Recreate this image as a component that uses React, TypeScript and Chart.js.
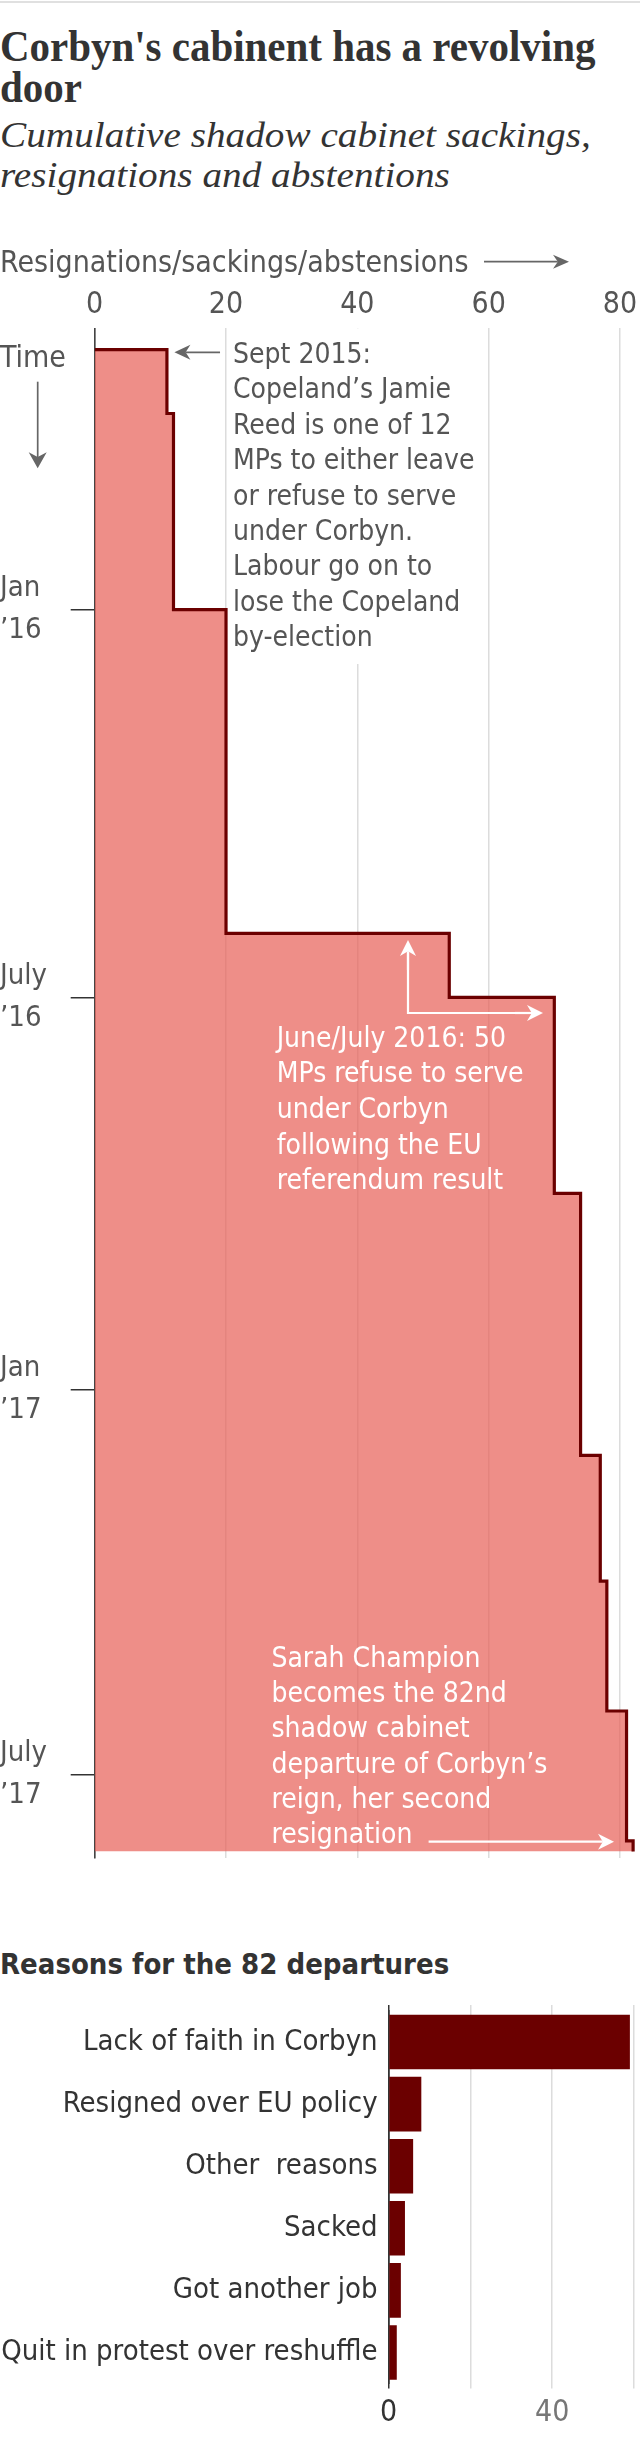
import React, { useEffect, useRef } from "react";
import { Chart, registerables } from "chart.js";

Chart.register(...registerables);

const FONT = "'DejaVu Sans Condensed', 'DejaVu Sans', sans-serif";

// ---- Timeline: cumulative shadow cabinet departures ----
const stepDates = [
  "2015-09-01", "2015-09-01", "2015-10-01", "2016-01-01", "2016-06-01", "2016-07-01",
  "2016-10-01", "2017-02-01", "2017-04-01", "2017-06-01", "2017-08-01", "2017-08-06",
];
const cumulativeDepartures = [0, 11, 12, 20, 54, 70, 74, 77, 78, 81, 82, 82];
const timeAxisStart = "2015-08-22";
const timeAxisEnd = "2017-08-09";
const timeTickDates = ["2016-01-01", "2016-07-01", "2017-01-01", "2017-07-01"];
const timeTickLabels = [["Jan", "’16"], ["July", "’16"], ["Jan", "’17"], ["July", "’17"]];
const countTicks = [0, 20, 40, 60, 80];

const note1 = [
  "Sept 2015:", "Copeland’s Jamie", "Reed is one of 12", "MPs to either leave",
  "or refuse to serve", "under Corbyn.", "Labour go on to", "lose the Copeland", "by-election",
];
const note2 = [
  "June/July 2016: 50", "MPs refuse to serve", "under Corbyn", "following the EU", "referendum result",
];
const note3 = [
  "Sarah Champion", "becomes the 82nd", "shadow cabinet", "departure of Corbyn’s",
  "reign, her second", "resignation",
];

// ---- Reasons bar chart ----
const reasonLabels = [
  "Lack of faith in Corbyn", "Resigned over EU policy", "Other  reasons",
  "Sacked", "Got another job", "Quit in protest over reshuffle",
];
const reasonCounts = [59, 8, 6, 4, 3, 2];
const reasonGridTicks = [0, 20, 40, 60];
const reasonTickLabels = ["0", "", "40", ""];

const ms = (s: string) => Date.parse(s + "T00:00:00Z");

function arrow(ctx: CanvasRenderingContext2D, x1: number, y1: number, x2: number, y2: number,
  color: string, width: number, headLen: number, headHalf: number) {
  const ang = Math.atan2(y2 - y1, x2 - x1);
  const cos = Math.cos(ang), sin = Math.sin(ang);
  ctx.save();
  ctx.strokeStyle = color;
  ctx.fillStyle = color;
  ctx.lineWidth = width;
  ctx.beginPath();
  ctx.moveTo(x1, y1);
  ctx.lineTo(x2 - cos * headLen * 0.7, y2 - sin * headLen * 0.7);
  ctx.stroke();
  const bx = x2 - cos * headLen, by = y2 - sin * headLen;
  const nx = x2 - cos * headLen * 0.7, ny = y2 - sin * headLen * 0.7;
  ctx.beginPath();
  ctx.moveTo(x2, y2);
  ctx.lineTo(bx - sin * headHalf, by + cos * headHalf);
  ctx.lineTo(nx, ny);
  ctx.lineTo(bx + sin * headHalf, by - cos * headHalf);
  ctx.closePath();
  ctx.fill();
  ctx.restore();
}

const timelineNotes = {
  id: "timelineNotes",
  beforeDatasetsDraw(chart: any) {
    const { ctx, chartArea, scales } = chart;
    const x = scales.x;
    const left = x.getPixelForValue(20) + 2.5;
    const right = x.getPixelForValue(60) - 3;
    ctx.save();
    ctx.fillStyle = "#ffffff";
    ctx.fillRect(left, chartArea.top, right - left, 434 - chartArea.top);
    ctx.restore();
  },
  afterDraw(chart: any) {
    const { ctx, scales } = chart;
    const x = scales.x;
    ctx.save();
    ctx.textAlign = "left";
    ctx.textBaseline = "alphabetic";
    ctx.fillStyle = "#555";
    ctx.font = `30px ${FONT}`;
    ctx.fillText("Resignations/sackings/abstensions", 0, 41.7);
    arrow(ctx, 484, 31.7, 569, 31.7, "#666", 1.7, 16, 7);
    ctx.fillStyle = "#555";
    ctx.fillText("Time", 0, 137);
    arrow(ctx, 37.7, 151.7, 37.7, 238.3, "#666", 1.7, 16, 9);

    ctx.font = `28px ${FONT}`;
    ctx.fillStyle = "#555";
    const n1x = x.getPixelForValue(20) + 7;
    note1.forEach((t, i) => ctx.fillText(t, n1x, 133 + i * 35.4));
    arrow(ctx, x.getPixelForValue(20) - 6, 122.3, x.getPixelForValue(11) + 7.5, 122.3, "#666", 1.7, 16, 7.5);

    ctx.fillStyle = "#ffffff";
    note2.forEach((t, i) => ctx.fillText(t, 276.7, 816.7 + i * 35.6));
    ctx.strokeStyle = "#ffffff";
    ctx.lineWidth = 2.2;
    ctx.beginPath();
    ctx.moveTo(408, 722);
    ctx.lineTo(408, 783);
    ctx.lineTo(532, 783);
    ctx.stroke();
    arrow(ctx, 408, 740, 408, 710, "#ffffff", 2.2, 16, 8);
    arrow(ctx, 515, 783, 543, 783, "#ffffff", 2.2, 16, 8);

    ctx.fillStyle = "#ffffff";
    note3.forEach((t, i) => ctx.fillText(t, 271.4, 1436.7 + i * 35.3));
    arrow(ctx, 428.6, 1611.7, 614, 1611.7, "#ffffff", 2.2, 16, 8);
    ctx.restore();
  },
};

export default function App() {
  const topRef = useRef<HTMLCanvasElement | null>(null);
  const barRef = useRef<HTMLCanvasElement | null>(null);

  useEffect(() => {
    document.body.style.margin = "0";
    const points = stepDates.map((d, i) => ({ x: cumulativeDepartures[i], y: ms(d) }));
    const top = new Chart(topRef.current as HTMLCanvasElement, {
      type: "line",
      data: {
        datasets: [
          {
            data: points as any,
            stepped: "after",
            fill: "origin",
            backgroundColor: "rgba(231,94,86,0.7)",
            borderColor: "#6b0000",
            borderWidth: 3.2,
            pointRadius: 0,
            borderJoinStyle: "miter",
            borderCapStyle: "butt",
          } as any,
        ],
      },
      options: {
        indexAxis: "y",
        responsive: false,
        animation: false,
        devicePixelRatio: 1,
        layout: { padding: { top: 52.3, bottom: 12, left: 0, right: 0 } },
        plugins: { legend: { display: false }, tooltip: { enabled: false } },
        scales: {
          x: {
            type: "linear",
            position: "top",
            min: 0,
            max: 83.05,
            afterBuildTicks: (s: any) => { s.ticks = countTicks.map((v) => ({ value: v })); },
            afterFit: (s: any) => { s.height = 46; s.paddingLeft = 0; s.paddingRight = 0; },
            ticks: { font: { family: FONT, size: 30 }, color: "#555", padding: 5, autoSkip: false, maxRotation: 0 },
            grid: { color: "#dcdcdc", lineWidth: 1.5, drawTicks: false },
            border: { display: false },
          },
          y: {
            type: "linear",
            reverse: true,
            min: ms(timeAxisStart),
            max: ms(timeAxisEnd),
            afterBuildTicks: (s: any) => { s.ticks = timeTickDates.map((d) => ({ value: ms(d) })); },
            afterFit: (s: any) => { s.width = 94.7; s.paddingTop = 0; s.paddingBottom = 0; },
            ticks: {
              callback: (_v: any, i: number) => timeTickLabels[i],
              font: { family: FONT, size: 29, lineHeight: 1.45 },
              color: "#555",
              crossAlign: "far",
              padding: 0,
              autoSkip: false,
            },
            grid: { drawOnChartArea: false, drawTicks: true, tickLength: 24, color: "#333", lineWidth: 1.5 },
            border: { display: true, color: "#444", width: 1.6 },
          },
        },
      } as any,
      plugins: [timelineNotes],
    });

    const bars = new Chart(barRef.current as HTMLCanvasElement, {
      type: "bar",
      data: {
        labels: reasonLabels,
        datasets: [
          {
            data: reasonCounts,
            backgroundColor: "#6b0000",
            barPercentage: 0.88,
            categoryPercentage: 1,
            xAxisID: "x",
          },
        ],
      },
      options: {
        indexAxis: "y",
        responsive: false,
        animation: false,
        devicePixelRatio: 1,
        layout: { padding: { top: 15, bottom: 0, left: 0, right: 0 } },
        plugins: { legend: { display: false }, tooltip: { enabled: false } },
        scales: {
          x: {
            type: "linear",
            position: "bottom",
            min: 0,
            max: 61.47,
            afterBuildTicks: (s: any) => { s.ticks = reasonGridTicks.map((v) => ({ value: v })); },
            afterFit: (s: any) => { s.height = 66.5; s.paddingLeft = 0; s.paddingRight = 0; },
            ticks: {
              callback: (_v: any, i: number) => reasonTickLabels[i],
              font: { family: FONT, size: 30 },
              color: (c: any) => (c.tick && c.tick.value === 0 ? "#333" : "#777"),
              padding: 6.8,
              autoSkip: false,
              maxRotation: 0,
            },
            grid: {
              color: (c: any) => (c.tick && c.tick.value === 0 ? "#333" : "#dcdcdc"),
              lineWidth: 1.5,
              drawTicks: true,
              tickLength: 5,
            },
            border: { display: false },
          },
          x2: {
            type: "linear",
            position: "top",
            min: 0,
            max: 61.47,
            afterBuildTicks: (s: any) => { s.ticks = reasonGridTicks.map((v) => ({ value: v })); },
            afterFit: (s: any) => { s.height = 6; s.paddingLeft = 0; s.paddingRight = 0; },
            ticks: { display: false },
            grid: {
              drawOnChartArea: false,
              drawTicks: true,
              tickLength: 6,
              color: (c: any) => (c.tick && c.tick.value === 0 ? "#333" : "#dcdcdc"),
              lineWidth: 1.5,
            },
            border: { display: false },
          },
          y: {
            afterFit: (s: any) => { s.width = 388.6; s.paddingTop = 0; s.paddingBottom = 0; },
            ticks: { font: { family: FONT, size: 29 }, color: "#333", padding: 11, autoSkip: false },
            grid: { display: false, drawTicks: false },
            border: { display: true, color: "#333", width: 1.6 },
          },
        },
      } as any,
    });

    return () => {
      top.destroy();
      bars.destroy();
    };
  }, []);

  return (
    <div style={{ position: "relative", width: 640, height: 2450, background: "#fff", overflow: "hidden" }}>
      <style>{`body{margin:0;background:#fff}`}</style>
      <div style={{ position: "absolute", left: 0, top: 1, width: 640, height: 2, background: "#e0e0e0" }} />
      <div
        style={{
          position: "absolute", left: 0, top: 26, fontFamily: "'Liberation Serif', serif", fontWeight: 700,
          fontSize: 45, lineHeight: "41px", color: "#333", whiteSpace: "nowrap",
          transform: "scaleX(0.91)", transformOrigin: "0 0",
        }}
      >
        Corbyn's cabinent has a revolving<br />door
      </div>
      <div
        style={{
          position: "absolute", left: 0, top: 115, fontFamily: "'Liberation Serif', serif", fontStyle: "italic",
          fontSize: 36, lineHeight: "40px", color: "#333", whiteSpace: "nowrap",
          transform: "scaleX(1.09)", transformOrigin: "0 0",
        }}
      >
        Cumulative shadow cabinet sackings,<br />resignations and abstentions
      </div>
      <canvas
        ref={topRef}
        width={640}
        height={1640}
        style={{ position: "absolute", left: 0, top: 230, width: 640, height: 1640 }}
      />
      <div
        style={{
          position: "absolute", left: 0, top: 1945.5, fontFamily: FONT, fontWeight: 700,
          fontSize: 29, lineHeight: "36px", color: "#333", whiteSpace: "nowrap",
        }}
      >
        Reasons for the 82 departures
      </div>
      <canvas
        ref={barRef}
        width={640}
        height={460}
        style={{ position: "absolute", left: 0, top: 1990, width: 640, height: 460 }}
      />
    </div>
  );
}
